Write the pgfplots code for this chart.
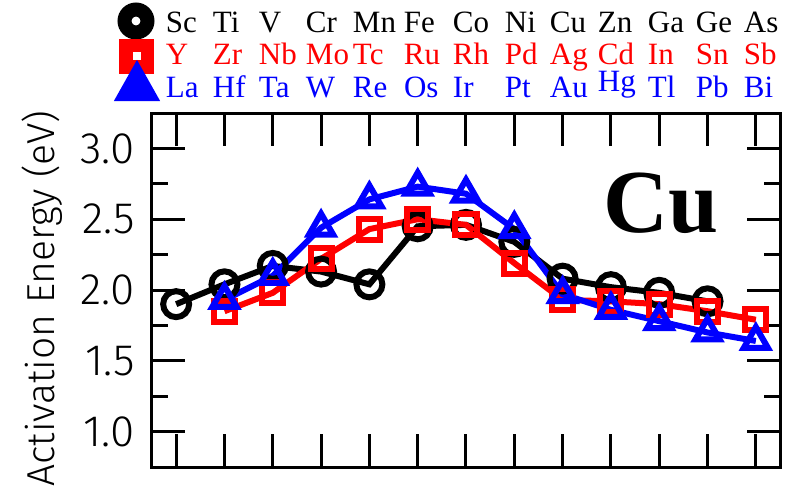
\documentclass[border=0pt]{standalone}
\usepackage{pgfplots}
\pgfplotsset{compat=1.18}
\usepackage{fontspec}
\setmainfont{Liberation Serif}
\newfontfamily\lightsans{Fira Sans Light}
\newcommand\cell[2]{\makebox[#1pt][l]{#2}}

\pgfplotstableread{
x y
0 1.90
1 2.04
2 2.17
3 2.13
4 2.04
5 2.45
6 2.46
7 2.34
8 2.08
9 2.02
10 1.98
11 1.92
}\blackdata
\pgfplotstableread{
x y
1 1.85
2 1.98
3 2.22
4 2.43
5 2.50
6 2.46
7 2.19
8 1.93
9 1.92
10 1.90
11 1.85
12 1.79
}\reddata
\pgfplotstableread{
x y
1 1.93
2 2.10
3 2.44
4 2.64
5 2.73
6 2.68
7 2.43
8 1.97
9 1.86
10 1.78
11 1.70
12 1.64
}\bluedata

\begin{document}
\begin{tikzpicture}
\useasboundingbox (-152pt,-23pt) rectangle (633pt,467pt);
\begin{axis}[
  at={(0pt,0pt)}, anchor=south west,
  scale only axis, width=628pt, height=354pt,
  xmin=-0.5, xmax=12.5, ymin=0.75, ymax=3.25,
  xtick={0,...,12}, xticklabels={},
  ytick={1.0,1.5,2.0,2.5,3.0}, minor y tick num=1,
  major tick length=33pt, minor tick length=16pt,
  tick style={black, line width=3pt},
  axis line style={line width=3pt},
  yticklabel style={font=\lightsans\fontsize{44}{44}\selectfont, inner sep=0pt, anchor=east, xshift=-17pt,
    /pgf/number format/.cd, fixed, fixed zerofill, precision=1, assume math mode=true},
  ylabel={Activation Energy (eV)},
  ylabel style={font=\lightsans\fontsize{39}{39}\selectfont, at={(axis description cs:-0.1752,0.4760)}, anchor=center},
  legend style={at={(axis description cs:-0.05414,1.29096)}, anchor=north west, draw=none, fill=none,
    inner sep=0pt, outer sep=0pt, row sep=2.5pt, column sep=10pt,
    nodes={inner sep=0pt, text height=22pt, text depth=8pt, font=\fontsize{31}{31}\selectfont}},
  legend cell align=left,
]
\addplot[black, line width=6pt, mark=o, mark size=13pt,
  legend image code/.code={\fill[overlay, black, even odd rule] (-1pt,4pt) circle (15.5pt) (-1pt,4pt) circle (7.5pt); \path (-16pt,0pt) (16pt,0pt);}]
  table[x=x,y=y] {\blackdata};
\addlegendentry{\textcolor{black}{\cell{47}{Sc}\cell{46}{Ti}\cell{47}{V}\cell{47}{Cr}\cell{51}{Mn}\cell{49}{Fe}\cell{52}{Co}\cell{45}{Ni}\cell{48}{Cu}\cell{50}{Zn}\cell{48}{Ga}\cell{48}{Ge}As}}
\addplot[red, line width=6pt, mark=square, mark size=10.5pt,
  legend image code/.code={\fill[overlay, red, even odd rule] (-14.5pt,-13pt) rectangle (14.5pt,16pt) (-7pt,-5.5pt) rectangle (7pt,8.5pt); \path (-16pt,0pt) (16pt,0pt);}]
  table[x=x,y=y] {\reddata};
\addlegendentry{\textcolor{red}{\cell{47}{Y}\cell{46}{Zr}\cell{47}{Nb}\cell{47}{Mo}\cell{51}{Tc}\cell{49}{Ru}\cell{52}{Rh}\cell{45}{Pd}\cell{48}{Ag}\cell{50}{Cd}\cell{48}{In}\cell{48}{Sn}Sb}}
\addplot[blue, line width=6pt, mark=triangle, mark size=14pt,
  legend image code/.code={\fill[overlay, blue, even odd rule] (-18pt,-8pt) -- (18pt,-8pt) -- (0pt,24pt) -- cycle (-4.5pt,0pt) -- (4.5pt,0pt) -- (0pt,8pt) -- cycle; \path (-16pt,0pt) (16pt,0pt);}]
  table[x=x,y=y] {\bluedata};
\addlegendentry{\textcolor{blue}{\cell{47}{La}\cell{46}{Hf}\cell{47}{Ta}\cell{47}{W}\cell{51}{Re}\cell{49}{Os}\cell{52}{Ir}\cell{45}{Pt}\cell{48}{Au}\cell{50}{\raisebox{6pt}{Hg}}\cell{48}{Tl}\cell{48}{Pb}Bi}}
\node[anchor=base west, inner sep=0pt, font=\bfseries\fontsize{90}{90}\selectfont] at (axis cs:8.85,2.406) {Cu};
\end{axis}
\end{tikzpicture}
\end{document}
